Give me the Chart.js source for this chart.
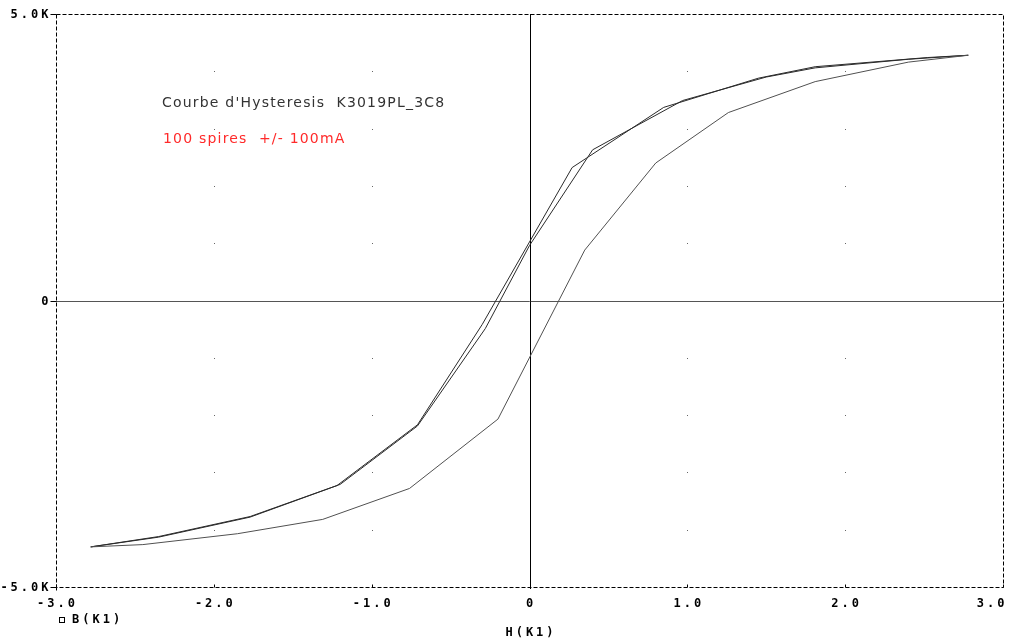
<script src="https://cdn.jsdelivr.net/npm/chart.js"></script>
<style>
  html, body { margin: 0; background: #fff; }
  #wrap { width: 1009px; height: 641px; }
</style>

<div id="wrap"><canvas id="hystChart"></canvas></div>

<script>
    // H(K1) / B(K1), one array pair per branch
    const hAsc = [-2.78, -2.45, -1.85, -1.31, -0.76, -0.20, 0.35, 0.80, 1.26, 1.81, 2.40, 2.78];
    const bAsc = [-4300, -4260, -4070, -3820, -3280, -2070, 880, 2400, 3280, 3820, 4160, 4280];

    const hDesc1 = [2.78, 2.40, 1.81, 1.50, 0.97, 0.40, 0.00, -0.28, -0.71, -1.20, -1.77, -2.35, -2.78];
    const bDesc1 = [4280, 4210, 4060, 3900, 3490, 2630, 960, -490, -2190, -3210, -3770, -4120, -4300];

    const hDesc2 = [2.78, 2.52, 1.81, 1.45, 0.85, 0.27, -0.30, -0.71, -1.22, -1.77, -2.35, -2.78];
    const bDesc2 = [4280, 4240, 4080, 3880, 3370, 2320, -420, -2170, -3230, -3780, -4130, -4300];

    const xTicks = [-3, -2, -1, 0, 1, 2, 3];
    const xTickLabels = ["-3.0", "-2.0", "-1.0", "0", "1.0", "2.0", "3.0"];
    const yTicks = [5000, 0, -5000];
    const yTickLabels = ["5.0K", "0", "-5.0K"];
    const gridX = [-2, -1, 0, 1, 2];
    const gridY = [-4000, -3000, -2000, -1000, 1000, 2000, 3000, 4000];

    const title1 = "Courbe d'Hysteresis  K3019PL_3C8";
    const title2 = "100 spires  +/- 100mA";
    const xTitle = "H(K1)";
    const traceName = "B(K1)";

    function toPoints(h, b) {
        return h.map((v, i) => ({ x: v, y: b[i] }));
    }

    function spacedText(ctx, text, x, y, spacing, align) {
        ctx.letterSpacing = spacing + "px";
        let w = ctx.measureText(text).width - spacing;
        let left = x;
        if (align === "center") left = x - w / 2;
        if (align === "right") left = x - w;
        ctx.textAlign = "left";
        ctx.fillText(text, left, y);
        return w;
    }

    const psplot = {
        id: "psplot",
        beforeDatasetsDraw(chart) {
            const { ctx, chartArea: a, scales: { x, y } } = chart;
            ctx.save();
            // dotted grid
            ctx.fillStyle = "#666";
            gridX.forEach(gx => {
                [...gridY, 0].forEach(gy => {
                    ctx.fillRect(Math.round(x.getPixelForValue(gx)), Math.round(y.getPixelForValue(gy)), 1, 1);
                });
            });
            // zero lines
            let y0 = Math.round(y.getPixelForValue(0)) + 0.5;
            ctx.strokeStyle = "#555";
            ctx.lineWidth = 1;
            ctx.beginPath();
            ctx.moveTo(a.left, y0);
            ctx.lineTo(a.right, y0);
            ctx.stroke();
            let x0 = Math.round(x.getPixelForValue(0)) + 0.5;
            ctx.strokeStyle = "#000";
            ctx.beginPath();
            ctx.moveTo(x0, a.top);
            ctx.lineTo(x0, a.bottom + 2);
            ctx.stroke();
            ctx.restore();
        },
        afterDraw(chart) {
            const { ctx, chartArea: a, scales: { x, y } } = chart;
            const L = Math.round(a.left) + 0.5, R = Math.round(a.right) + 0.5;
            const T = Math.round(a.top) + 0.5, B = Math.round(a.bottom) + 0.5;
            ctx.save();
            ctx.strokeStyle = "#000";
            ctx.lineWidth = 1;
            ctx.setLineDash([4, 2]);
            ctx.strokeRect(L, T, R - L, B - T);
            ctx.setLineDash([]);

            // ticks
            ctx.beginPath();
            yTicks.forEach(v => {
                let py = Math.round(y.getPixelForValue(v)) + 0.5;
                ctx.moveTo(L - 6, py);
                ctx.lineTo(L, py);
            });
            ctx.moveTo(L, B);
            ctx.lineTo(L, B + 3);
            xTicks.forEach(v => {
                let px = Math.round(x.getPixelForValue(v)) + 0.5;
                ctx.moveTo(px, B);
                ctx.lineTo(px, B - 3);
            });
            ctx.stroke();

            // tick labels
            const sp = 3;
            ctx.fillStyle = "#000";
            ctx.font = 'bold 12px "DejaVu Sans Mono"';
            ctx.textBaseline = "middle";
            yTicks.forEach((v, i) => {
                spacedText(ctx, yTickLabels[i], L - 8, Math.round(y.getPixelForValue(v)) + 1, sp, "right");
            });
            xTicks.forEach((v, i) => {
                let px = x.getPixelForValue(v);
                let lbl = xTickLabels[i];
                ctx.letterSpacing = sp + "px";
                let w = ctx.measureText(lbl).width - sp;
                if (px + w / 2 > R + 1) {
                    spacedText(ctx, lbl, R + 1, B + 16, sp, "right");
                } else {
                    spacedText(ctx, lbl, px, B + 16, sp, "center");
                }
            });

            // axis title and trace legend
            spacedText(ctx, xTitle, x.getPixelForValue(0), 633, sp, "center");
            ctx.lineWidth = 1;
            ctx.strokeRect(59.5, 617.5, 5, 5);
            spacedText(ctx, traceName, 72, 620, sp, "left");

            // annotations
            ctx.font = '14px "DejaVu Sans"';
            ctx.fillStyle = "#333";
            spacedText(ctx, title1, 162, 103, 1.2, "left");
            ctx.fillStyle = "#ff2a2a";
            spacedText(ctx, title2, 163, 139, 1.2, "left");
            ctx.restore();
        }
    };

    const lineStyle = {
        showLine: true,
        borderColor: "#2a2a2a",
        borderWidth: 1,
        pointRadius: 0,
        tension: 0,
        fill: false
    };

    new Chart(document.getElementById("hystChart"), {
        type: "scatter",
        data: {
            datasets: [
                { label: "B(K1) up", data: toPoints(hAsc, bAsc), ...lineStyle, borderColor: "#505050" },
                { label: "B(K1) down 1", data: toPoints(hDesc1, bDesc1), ...lineStyle },
                { label: "B(K1) down 2", data: toPoints(hDesc2, bDesc2), ...lineStyle }
            ]
        },
        options: {
            responsive: true,
            maintainAspectRatio: false,
            animation: false,
            layout: { padding: { left: 56, right: 6, top: 14, bottom: 54 } },
            scales: {
                x: { type: "linear", min: -3, max: 3, display: false },
                y: { type: "linear", min: -5000, max: 5000, display: false }
            },
            plugins: {
                legend: { display: false },
                tooltip: { enabled: false }
            }
        },
        plugins: [psplot]
    });
</script>
